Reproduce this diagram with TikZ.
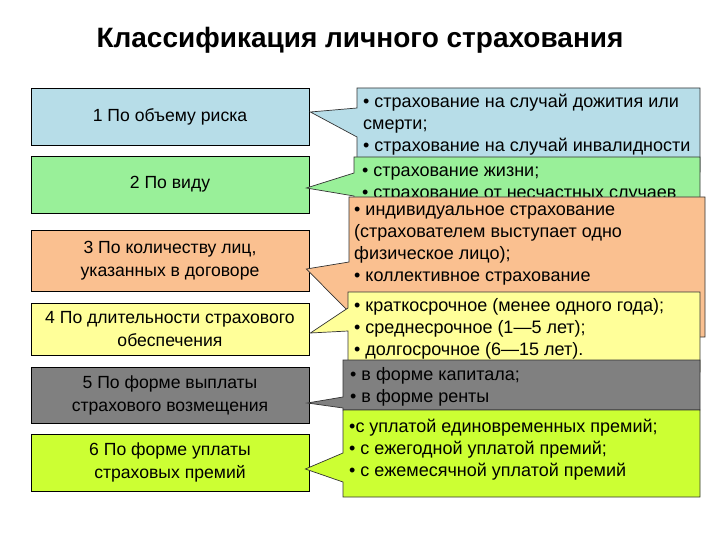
\documentclass[tikz,border=0pt]{standalone}
\usepackage{fontspec}
\setmainfont{Liberation Sans}
\usetikzlibrary{calc}

\definecolor{cblue}{RGB}{183,221,232}
\definecolor{cgreen}{RGB}{153,240,153}
\definecolor{cpeach}{RGB}{250,192,144}
\definecolor{cyellow}{RGB}{255,255,153}
\definecolor{cgray}{RGB}{128,128,128}
\definecolor{clime}{RGB}{204,255,51}

\begin{document}
\begin{tikzpicture}[x=1pt, y=-1pt,
    lbox/.style={draw=black, line width=0.8pt, minimum width=278pt, minimum height=57pt,
        inner sep=0pt, align=center, font=\fontsize{17.6}{23}\selectfont},
    callout/.style={draw=black!80, line width=0.7pt},
    ctext/.style={anchor=north west, inner sep=0pt, align=left, font=\fontsize{18}{22}\selectfont}]
    \useasboundingbox (0,0) rectangle (720,540);

    % заголовок
    \node[font=\bfseries\fontsize{28}{32}\selectfont] (title) at (360,40) {Классификация личного страхования};

    % левые блоки
    \node[lbox, fill=cblue] (b1) at (170,116.5) {1 По объему риска};
    \node[lbox, fill=cgreen] (b2) at (170,184.5) {2 По виду};
    \node[lbox, fill=cpeach, minimum height=61pt] (b3) at (170,260.5) {3 По количеству лиц,\\указанных в договоре};
    \node[lbox, fill=cyellow, minimum height=52pt] (b4) at (170,329) {4 По длительности страхового\\обеспечения};
    \node[lbox, fill=cgray, minimum height=56pt] (b5) at (170,395) {5 По форме выплаты\\страхового возмещения};
    \node[lbox, fill=clime] (b6) at (170,462.5) {6 По форме уплаты\\страховых премий};

    % выноска 1
    \draw[callout, fill=cblue] (357,88) -- (700,88) -- (700,172) -- (357,172) -- (357,137)
        -- ($(b1.east)+(1,-4.5)$) -- (357,108) -- cycle;
    \node[ctext] (t1) at (363,92) {\strut• страхование на случай дожития или\\смерти;\\• страхование на случай инвалидности};

    % выноска 2
    \draw[callout, fill=cgreen] (354,157) -- (700,157) -- (700,215) -- (354,215) -- (354,196)
        -- ($(b2.east)+(-3,3.5)$) -- (354,173) -- cycle;
    \node[ctext] (t2) at (362,161) {\strut• страхование жизни;\\• страхование от несчастных случаев};

    % выноска 3
    \draw[callout, fill=cpeach] (349,197) -- (705,197) -- (705,337) -- (349,337) -- (349,312)
        -- ($(b3.east)+(-3,8.5)$) -- (349,262) -- cycle;
    \node[ctext] (t3) at (354,200) {\strut• индивидуальное страхование\\(страхователем выступает одно\\физическое лицо);\\• коллективное страхование};

    % выноска 4
    \draw[callout, fill=cyellow] (348,292) -- (700,292) -- (700,372) -- (348,372) -- (348,331)
        -- ($(b4.east)+(1,4)$) -- (348,308) -- cycle;
    \node[ctext] (t4) at (354,296) {\strut• краткосрочное (менее одного года);\\• среднесрочное (1—5 лет);\\• долгосрочное (6—15 лет).};

    % выноска 5
    \draw[callout, fill=cgray] (343,360) -- (700,360) -- (700,410) -- (343,410) -- (343,408)
        -- ($(b5.east)+(-2,8)$) -- (343,397) -- cycle;
    \node[ctext] (t5) at (350,365) {\strut• в форме капитала;\\• в форме ренты};

    % выноска 6
    \draw[callout, fill=clime] (343,410) -- (700,410) -- (700,497) -- (343,497) -- (343,482)
        -- ($(b6.east)+(-4,6.5)$) -- (343,453) -- cycle;
    \node[ctext] (t6) at (349,417) {\strut•с уплатой единовременных премий;\\• с ежегодной уплатой премий;\\• с ежемесячной уплатой премий};
\end{tikzpicture}
\end{document}
